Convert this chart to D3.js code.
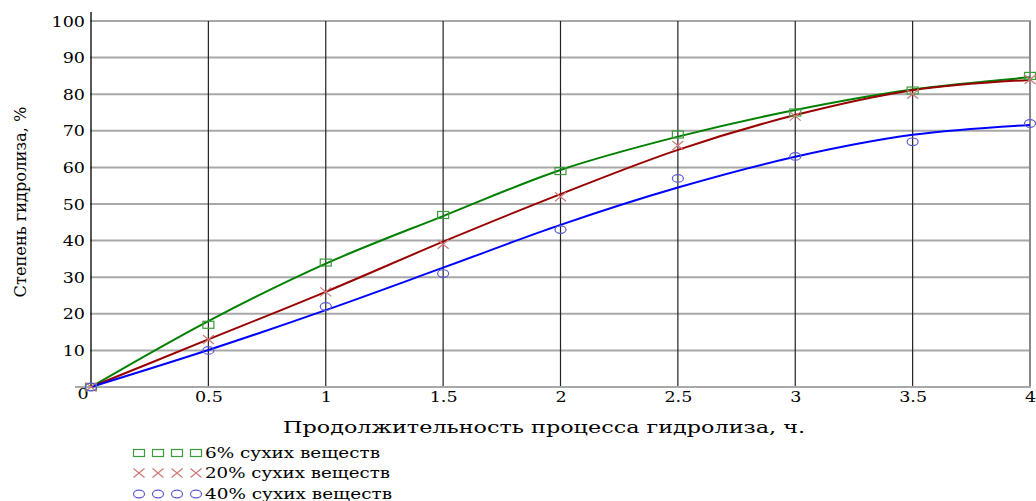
<!DOCTYPE html>
<html><head><meta charset="utf-8">
<script src="https://cdn.jsdelivr.net/npm/d3@7"></script>
<style>
html,body{margin:0;padding:0;background:#fff;}
svg text{font-family:"DejaVu Serif","Liberation Serif",serif !important;fill:#000;font-weight:normal;}
</style></head>
<body><svg id="c" width="1036" height="501"></svg>
<script>
// ---- data ----
const hours = [0, 0.5, 1, 1.5, 2, 2.5, 3, 3.5, 4];
const seriesNames = ["6% сухих веществ", "20% сухих веществ", "40% сухих веществ"];
// measured points (markers)
const obs6  = [0, 17, 34, 47, 59, 69, 75, 81, 85];
const obs20 = [0, 13, 26, 39, 52, 66, 74, 80, 84];
const obs40 = [0, 10, 22, 31, 43, 57, 63, 67, 72];
// fitted curves
const fit6  = [0, 18.0, 33.7, 46.7, 59.3, 68.4, 75.7, 81.3, 84.6];
const fit20 = [0, 13.0, 26.0, 39.7, 52.7, 64.8, 74.3, 81.1, 83.9];
const fit40 = [0, 10.1, 21.0, 32.6, 44.3, 54.5, 62.9, 68.9, 71.6];
const xTicks = [0, 0.5, 1, 1.5, 2, 2.5, 3, 3.5, 4];
const yTicks = [0, 10, 20, 30, 40, 50, 60, 70, 80, 90, 100];
const xTitle = "Продолжительность процесса гидролиза, ч.";
const yTitle = "Степень гидролиза, %";

const lineColors = ["#008000", "#990000", "#0000ff"];
const markColors = ["#3c9c3c", "#d07878", "#5a5ad0"];
const markTypes = ["square", "cross", "circle"];

const svg = d3.select("#c");
const x = d3.scaleLinear().domain([0, 4]).range([91, 1030]);
const y = d3.scaleLinear().domain([0, 100]).range([387, 21]);

function stretch(sel, f) {
  sel.each(function(){ const w = this.getComputedTextLength();
    this.setAttribute("textLength", w * f); this.setAttribute("lengthAdjust", "spacingAndGlyphs"); });
}
function stretchTo(sel, w) {
  sel.attr("textLength", w).attr("lengthAdjust", "spacingAndGlyphs");
}

// horizontal grid
svg.append("g").selectAll("line").data(yTicks.filter(d => d > 0)).join("line")
  .attr("x1", 90).attr("x2", 1031).attr("y1", d => y(d)).attr("y2", d => y(d))
  .attr("stroke", "#a8a8a8").attr("stroke-width", 2);
// vertical grid
svg.append("g").selectAll("line").data(xTicks.filter(d => d > 0)).join("line")
  .attr("x1", d => x(d)).attr("x2", d => x(d)).attr("y1", y(100)).attr("y2", y(0))
  .attr("stroke", d => d === 4 ? "#888" : "#222").attr("stroke-width", d => d === 4 ? 2 : 1.2);
// x axis line
svg.append("line").attr("x1", 75).attr("x2", 1031).attr("y1", y(0)).attr("y2", y(0))
  .attr("stroke", "#a8a8a8").attr("stroke-width", 2);
// y axis line
svg.append("line").attr("x1", 91).attr("x2", 91).attr("y1", 12).attr("y2", y(0))
  .attr("stroke", "#000").attr("stroke-width", 1.3);

// y axis labels
const yAx = svg.append("g").attr("transform", "translate(91,0)")
  .call(d3.axisLeft(y).tickValues(yTicks.filter(d => d > 0)).tickSize(0).tickPadding(6).tickFormat(d3.format("d")));
yAx.attr("font-family", null);
yAx.select(".domain").remove();
yAx.selectAll("text").attr("font-size", 14).attr("dy", "0.36em");
stretch(yAx.selectAll("text"), 1.25);

// x axis labels
const xAx = svg.append("g").attr("transform", `translate(0,${y(0)})`)
  .call(d3.axisBottom(x).tickValues(xTicks).tickSize(0).tickPadding(6).tickFormat(d => String(d)));
xAx.attr("font-family", null);
xAx.select(".domain").remove();
xAx.selectAll("text").attr("font-size", 14).attr("dy", "0.62em");
xAx.selectAll(".tick").filter(d => d === 0).attr("transform", `translate(${x(0) - 8},-3)`);
stretch(xAx.selectAll("text"), 1.25);

// curves
const fits = [fit6, fit20, fit40];
const obs = [obs6, obs20, obs40];
const line = d3.line().x(d => x(d[0])).y(d => y(d[1])).curve(d3.curveMonotoneX);
fits.forEach((f, i) => {
  svg.append("path").datum(hours.map((h, j) => [h, f[j]]))
    .attr("d", line).attr("fill", "none").attr("stroke", lineColors[i]).attr("stroke-width", 2);
});

function marker(g, type, cx, cy, color) {
  if (type === "square") {
    g.append("rect").attr("x", cx - 5.5).attr("y", cy - 3.5).attr("width", 11).attr("height", 7)
      .attr("fill", "none").attr("stroke", color).attr("stroke-width", 1.2);
  } else if (type === "cross") {
    g.append("path").attr("d", `M${cx-5.5},${cy-4.5}L${cx+5.5},${cy+4.5}M${cx-5.5},${cy+4.5}L${cx+5.5},${cy-4.5}`)
      .attr("fill", "none").attr("stroke", color).attr("stroke-width", 1.2);
  } else {
    g.append("ellipse").attr("cx", cx).attr("cy", cy).attr("rx", 5.5).attr("ry", 3.8)
      .attr("fill", "none").attr("stroke", color).attr("stroke-width", 1.2);
  }
}
obs.forEach((o, i) => {
  const g = svg.append("g");
  hours.forEach((h, j) => marker(g, markTypes[i], x(h), y(o[j]), markColors[i]));
});

// titles
const xt = svg.append("text").attr("x", 544).attr("y", 433).attr("text-anchor", "middle")
  .attr("font-size", 17).text(xTitle);
stretchTo(xt, 522);
const yt = svg.append("text").attr("transform", "translate(26,202) rotate(-90)").attr("text-anchor", "middle")
  .attr("font-size", 16).text(yTitle);
stretchTo(yt, 191);

// legend
const legW = [175, 185, 187];
const legY = [453, 473, 494];
seriesNames.forEach((name, i) => {
  const g = svg.append("g");
  [139, 158, 177, 196].forEach(cx => marker(g, markTypes[i], cx, legY[i], markColors[i]));
  const t = g.append("text").attr("x", 205).attr("y", legY[i] + 5).attr("font-size", 14).text(name);
  stretchTo(t, legW[i]);
});
</script></body></html>
